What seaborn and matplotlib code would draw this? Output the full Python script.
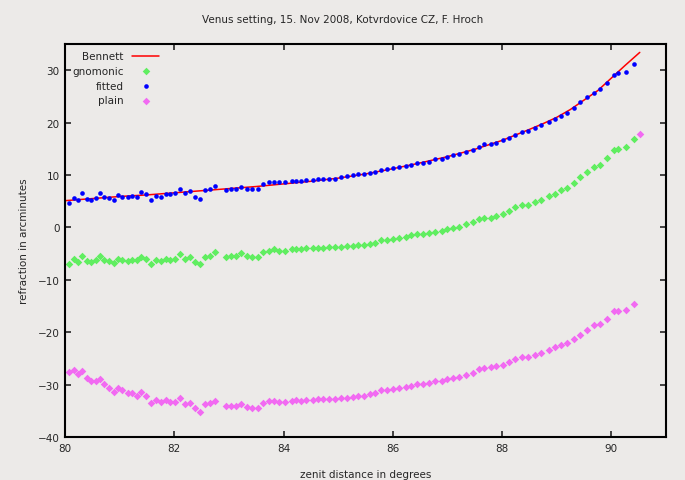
import numpy as np
import pandas as pd
import matplotlib
matplotlib.use("Agg")
import matplotlib.pyplot as plt
import seaborn as sns

# ---------------------------------------------------------------------------
# Data
# ---------------------------------------------------------------------------

zenith = [
    80.08, 80.16, 80.24, 80.32, 80.40, 80.47, 80.57, 80.64, 80.72, 80.80,
    80.89, 80.97, 81.05, 81.15, 81.23, 81.32, 81.40, 81.49, 81.57, 81.67,
    81.75, 81.84, 81.93, 82.02, 82.11, 82.19, 82.29, 82.38, 82.48, 82.57,
    82.66, 82.75, 82.95, 83.04, 83.13, 83.23, 83.33, 83.42, 83.53, 83.62,
    83.73, 83.82, 83.91, 84.03, 84.15, 84.23, 84.32, 84.41, 84.53, 84.63,
    84.72, 84.83, 84.94,
    85.06, 85.16, 85.27, 85.37, 85.47, 85.58, 85.68, 85.79, 85.90, 86.01,
    86.12, 86.25, 86.34, 86.44, 86.55, 86.66, 86.78, 86.90, 87.00, 87.11,
    87.22, 87.34, 87.46, 87.57, 87.66, 87.79, 87.89, 88.01, 88.13, 88.24,
    88.36, 88.47, 88.60, 88.72, 88.85, 88.97, 89.08, 89.19, 89.31, 89.42,
    89.56, 89.68, 89.80, 89.92, 90.05, 90.13, 90.27, 90.41,
]

fitted = [
    4.71, 5.66, 5.28, 6.55, 5.47, 5.28, 5.66, 6.49, 5.85, 5.66,
    5.28, 6.10, 5.85, 5.85, 6.04, 5.85, 6.68, 6.30, 5.28, 6.04,
    5.85, 6.30, 6.30, 6.49, 7.31, 6.49, 6.87, 5.85, 5.47, 7.12,
    7.31, 7.96, 7.12, 7.31, 7.31, 7.69, 7.31, 7.31, 7.31, 8.34,
    8.72, 8.72, 8.72, 8.72, 8.91, 8.91, 8.91, 9.10, 9.10, 9.29,
    9.29, 9.29, 9.29,
    9.60, 9.73, 9.92, 10.11, 10.11, 10.37, 10.62, 10.88, 11.13, 11.32,
    11.58, 11.70, 11.89, 12.35, 12.35, 12.54, 12.98, 12.98, 13.36, 13.74,
    13.93, 14.31, 14.75, 15.40, 15.84, 15.84, 16.16, 16.60, 17.12, 17.69,
    18.19, 18.45, 19.03, 19.47, 20.04, 20.67, 21.18, 21.81, 22.84, 23.85,
    24.81, 25.70, 26.34, 27.61, 29.06, 29.39, 29.71, 31.24,
]

gnomonic = [
    -7.06, -6.05, -6.68, -5.41, -6.42, -6.68, -6.23, -5.41, -6.23, -6.42,
    -6.87, -6.05, -6.23, -6.42, -6.23, -6.23, -5.60, -6.05, -7.06, -6.23,
    -6.42, -6.05, -6.23, -6.05, -5.15, -6.05, -5.60, -6.68, -7.06, -5.60,
    -5.41, -4.77, -5.60, -5.41, -5.41, -4.96, -5.41, -5.60, -5.60, -4.64,
    -4.45, -4.20, -4.45, -4.45, -4.20, -4.20, -4.20, -4.01, -4.01, -4.01,
    -4.01, -3.82, -3.82,
    -3.69, -3.50, -3.50, -3.37, -3.37, -3.18, -2.93, -2.42, -2.42, -2.23,
    -1.97, -1.91, -1.46, -1.34, -1.34, -1.02, -0.83, -0.70, -0.38, -0.13,
    0.06, 0.64, 1.02, 1.53, 1.72, 1.84, 2.23, 2.48, 3.12, 3.82,
    4.26, 4.26, 4.90, 5.28, 5.92, 6.42, 7.06, 7.44, 8.52, 9.54,
    10.63, 11.51, 11.89, 13.17, 14.75, 15.01, 15.40, 16.85,
]

plain = [
    -27.67, -27.29, -28.05, -27.48, -28.69, -29.33, -29.33, -28.94, -29.96, -30.60,
    -31.36, -30.73, -31.04, -31.68, -31.68, -32.12, -31.49, -32.12, -33.59, -32.95,
    -33.27, -32.95, -33.27, -33.27, -32.63, -33.78, -33.59, -34.54, -35.18, -33.78,
    -33.59, -33.14, -34.03, -34.03, -34.03, -33.78, -34.22, -34.41, -34.41, -33.59,
    -33.14, -33.14, -33.40, -33.40, -33.14, -32.95, -33.14, -32.95, -32.95, -32.76,
    -32.76, -32.76, -32.76,
    -32.63, -32.50, -32.44, -32.12, -32.12, -31.87, -31.68, -31.11, -31.11, -30.92,
    -30.73, -30.53, -30.28, -29.90, -29.90, -29.64, -29.33, -29.33, -28.94, -28.69,
    -28.56, -28.12, -27.73, -27.10, -26.91, -26.59, -26.46, -26.27, -25.70, -25.06,
    -24.68, -24.68, -24.30, -23.92, -23.47, -22.90, -22.52, -22.07, -21.25, -20.48,
    -19.66, -18.58, -18.39, -17.43, -15.97, -15.97, -15.78, -14.57,
]

# one stray "plain" point at the very end
plain_tail_x = [90.52]
plain_tail_y = [17.8]

bennett_x = [80.0, 80.5, 81.0, 81.5, 82.0, 82.5, 83.0, 83.5, 84.0, 84.5,
             85.0, 85.5, 86.0, 86.5, 87.0, 87.5, 88.0, 88.5, 88.75, 89.0,
             89.25, 89.5, 89.75, 90.0, 90.25, 90.52]
bennett_y = [5.1, 5.5, 5.9, 6.2, 6.6, 7.0, 7.4, 7.8, 8.3, 8.8,
             9.4, 10.2, 11.2, 12.3, 13.5, 14.9, 16.6, 18.7, 19.8, 21.0,
             22.5, 24.3, 26.1, 28.5, 30.9, 33.4]

x_ticks = [80, 82, 84, 86, 88, 90]
y_ticks = [-40, -30, -20, -10, 0, 10, 20, 30]

# ---------------------------------------------------------------------------
# Plot
# ---------------------------------------------------------------------------

BG = "#ECEAE8"
sns.set_style("ticks")
plt.rcParams["font.family"] = ["DejaVu Sans"]

fig = plt.figure(figsize=(6.85, 4.81), dpi=100, facecolor=BG)
ax = fig.add_axes([65 / 685, 1 - 438 / 481, 601 / 685, (438 - 45) / 481])
ax.set_facecolor(BG)

sns.lineplot(x=bennett_x, y=bennett_y, ax=ax, color="#FF0000", linewidth=1.1,
             label="Bennett", sort=False)
sns.scatterplot(x=zenith, y=gnomonic, ax=ax, color="#60EE60", marker="D",
                s=15, linewidth=0, label="gnomonic")
sns.scatterplot(x=zenith, y=fitted, ax=ax, color="#0000FF", marker="o",
                s=11, linewidth=0, label="fitted", zorder=3)
sns.scatterplot(x=zenith + plain_tail_x, y=plain + plain_tail_y, ax=ax,
                color="#F26AF2", marker="D", s=15, linewidth=0, label="plain")

ax.set_xlim(80, 91)
ax.set_ylim(-40, 35)
ax.set_xticks(x_ticks)
ax.set_yticks(y_ticks)
ax.tick_params(direction="in", length=4, width=1.2, top=True, right=True,
               labelsize=7.5, pad=4)
for s in ax.spines.values():
    s.set_linewidth(1.5)
    s.set_color("black")

ax.set_xlabel("zenit distance in degrees", fontsize=7.5, labelpad=12)
ax.set_ylabel("refraction in arcminutes", fontsize=7.5, labelpad=6)
fig.text(0.5, 1 - 20 / 481, "Venus setting, 15. Nov 2008, Kotvrdovice CZ, F. Hroch",
         ha="center", va="center", fontsize=7.5)

leg = ax.legend(loc="upper left", markerfirst=False, frameon=False,
                fontsize=7.5, handlelength=2.6, handletextpad=0.8,
                labelspacing=0.45, borderaxespad=0.3)

fig.savefig("out.png", dpi=100, facecolor=BG)
plt.close(fig)
